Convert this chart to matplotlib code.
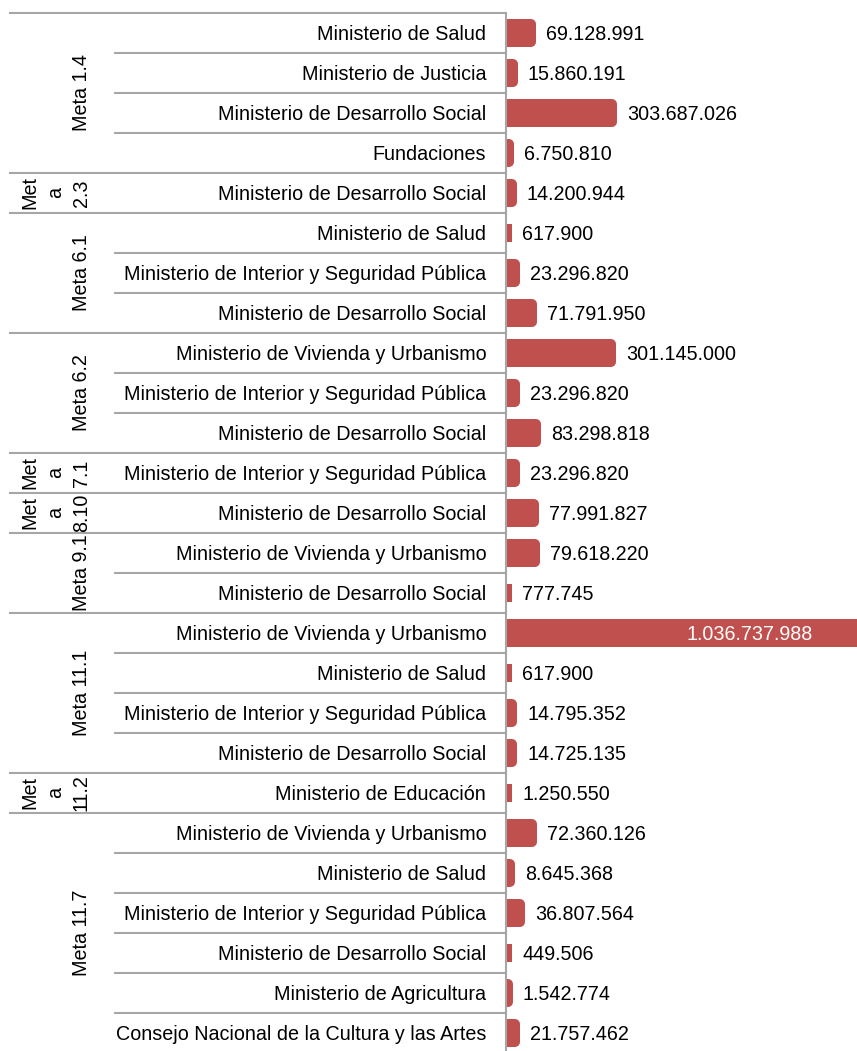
import matplotlib
matplotlib.use("Agg")
import matplotlib.pyplot as plt
import matplotlib.transforms as mtransforms

plt.rcParams['font.family'] = ['Liberation Sans', 'DejaVu Sans']

# %% Data
metas = ['Meta 1.4', 'Met\na\n2.3', 'Meta 6.1', 'Meta 6.2', 'Met\na\n7.1',
         'Met\na\n8.10', 'Meta 9.1', 'Meta 11.1', 'Met\na\n11.2', 'Meta 11.7']
meta_sizes = [4, 1, 3, 3, 1, 1, 2, 4, 1, 6]

instituciones = [
    'Ministerio de Salud', 'Ministerio de Justicia', 'Ministerio de Desarrollo Social', 'Fundaciones',
    'Ministerio de Desarrollo Social',
    'Ministerio de Salud', 'Ministerio de Interior y Seguridad Pública', 'Ministerio de Desarrollo Social',
    'Ministerio de Vivienda y Urbanismo', 'Ministerio de Interior y Seguridad Pública', 'Ministerio de Desarrollo Social',
    'Ministerio de Interior y Seguridad Pública',
    'Ministerio de Desarrollo Social',
    'Ministerio de Vivienda y Urbanismo', 'Ministerio de Desarrollo Social',
    'Ministerio de Vivienda y Urbanismo', 'Ministerio de Salud', 'Ministerio de Interior y Seguridad Pública',
    'Ministerio de Desarrollo Social',
    'Ministerio de Educación',
    'Ministerio de Vivienda y Urbanismo', 'Ministerio de Salud', 'Ministerio de Interior y Seguridad Pública',
    'Ministerio de Desarrollo Social', 'Ministerio de Agricultura', 'Consejo Nacional de la Cultura y las Artes',
]
montos = [69128991, 15860191, 303687026, 6750810,
          14200944,
          617900, 23296820, 71791950,
          301145000, 23296820, 83298818,
          23296820,
          77991827,
          79618220, 777745,
          1036737988, 617900, 14795352, 14725135,
          1250550,
          72360126, 8645368, 36807564, 449506, 1542774, 21757462]

W, H = 857, 1051
bar_color = '#C0504D'
line_color = '#A6A6A6'
xmax = 1.009e9
fs = 14.2


def fmt(v):
    return f"{v:,}".replace(',', '.')


fig = plt.figure(figsize=(W / 100, H / 100), dpi=100)
# bar area: x 507..857 px, y 13..1053 px
ax = fig.add_axes([507 / W, 1 - 1053 / H, 350 / W, 1040 / H])

n = len(montos)
ypos = list(range(n))
ax.barh(ypos, montos, height=0.47, color=bar_color, edgecolor=bar_color,
        linewidth=7.2, joinstyle='round', zorder=2)
ax.set_xlim(0, xmax)
ax.set_ylim(n - 0.5, -0.5)

for y, v in zip(ypos, montos):
    if v > xmax:
        ax.annotate(fmt(v), xy=(1, y), xycoords=('axes fraction', 'data'),
                    xytext=(-32, 0), textcoords='offset points',
                    ha='right', va='center_baseline', color='white', fontsize=fs, zorder=3)
    else:
        ax.annotate(fmt(v), xy=(v, y), xytext=(10.8, 0), textcoords='offset points',
                    ha='left', va='center_baseline', color='black', fontsize=fs, zorder=3)

ax.set_yticks(ypos)
ax.set_yticklabels(instituciones, fontsize=fs)
ax.tick_params(axis='y', length=0, pad=15)
ax.set_xticks([])
for s in ['top', 'right', 'bottom', 'left']:
    ax.spines[s].set_visible(False)

# separators and grouping axis
trans = mtransforms.blended_transform_factory(fig.transFigure, ax.transData)
x_axis = 506 / W
ax.plot([x_axis, x_axis], [-0.5, n - 0.5], transform=trans, color=line_color,
        lw=1.5, clip_on=False, zorder=4)

start = 0
for meta, size in zip(metas, meta_sizes):
    top = start - 0.5
    ax.plot([10 / W, x_axis], [top, top], transform=trans, color=line_color,
            lw=1.5, clip_on=False)
    for k in range(1, size):
        yb = start + k - 0.5
        ax.plot([115 / W, x_axis], [yb, yb], transform=trans, color=line_color,
                lw=1.5, clip_on=False)
    yc = start + (size - 1) / 2
    ax.text(91 / W, yc, meta, transform=trans, rotation=90, ha='right', va='center',
            multialignment='center', linespacing=1.45, fontsize=fs)
    start += size

fig.savefig('out.png', dpi=100)
